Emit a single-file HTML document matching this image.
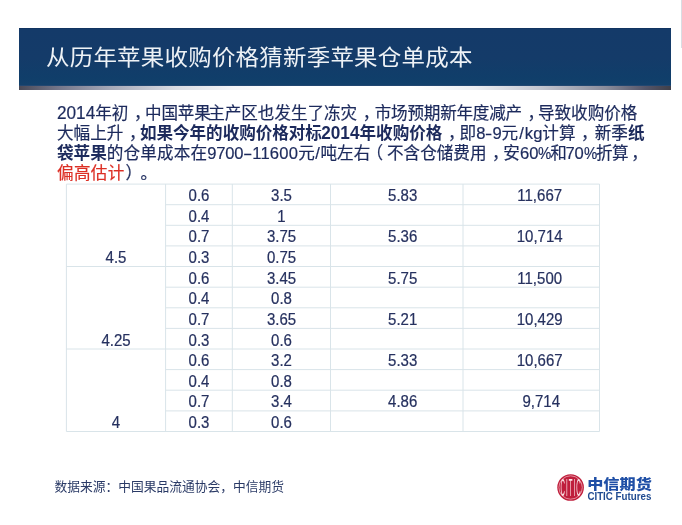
<!DOCTYPE html>
<html lang="zh">
<head>
<meta charset="utf-8">
<title>从历年苹果收购价格猜新季苹果仓单成本</title>
<style>
html,body{margin:0;padding:0;background:#fff;}
body{width:682px;height:525px;position:relative;overflow:hidden;font-family:"Liberation Sans","Noto Sans CJK SC",sans-serif;}
#banner{position:absolute;left:19px;top:28px;width:652px;height:58px;background:linear-gradient(to bottom,#10305c 0px,#143a69 1.5px,#143b69 30px,#103e6a 50px,#12406b 56.5px,#2a4a74 58px);}
#band{position:absolute;left:19px;top:85.8px;width:652px;height:3.9px;background:linear-gradient(to right,#4a4a58 0%,#74768a 6%,#a6a9b8 14%,#d9dce3 24%,#f4f5f8 33%,#ffffff 42%,#ffffff 60%,#eceef2 70%,#c3c6d0 80%,#8a8c9b 90%,#55566a 96%,#3f3f49 100%);}
#title{position:absolute;left:46px;top:37.5px;font-size:23.5px;line-height:40px;color:#eef2f6;white-space:nowrap;letter-spacing:0.2px;transform:scaleY(0.93);transform-origin:0 50%;}
#edge{position:absolute;left:680.7px;top:0;width:1.3px;height:48.4px;background:#d9dde3;}
.p{position:absolute;left:57px;font-size:16.6px;line-height:20px;color:#1c2a5c;white-space:nowrap;}
.p b{font-weight:bold;}
.red{color:#dc2f25;}
.p{transform:scaleY(1.035);transform-origin:0 60%;-webkit-text-stroke:0.2px currentColor;}
.p b{-webkit-text-stroke:0;}
.p i{font-style:normal;}
.cm{position:relative;left:5.5px;}
.n{font-size:17.2px;line-height:1px;}
.hy{display:inline-block;width:9.6px;margin-left:-0.7px;text-align:center;transform:scaleX(1.7);}
.hy2{display:inline-block;width:7px;text-align:center;transform:scaleX(1.3);}
.pc{display:inline-block;width:12.4px;transform:scaleX(0.9);transform-origin:0 50%;}
#grid{position:absolute;left:0;top:0;}
.c{position:absolute;width:80px;font-size:15px;line-height:20px;transform:scaleY(1.12);transform-origin:50% 55%;color:#26315f;-webkit-text-stroke:0.2px #26315f;text-align:center;white-space:nowrap;}
#src{position:absolute;left:54.5px;top:479.2px;font-size:12.75px;line-height:16px;color:#2a3a66;white-space:nowrap;}
#logo{position:absolute;left:552px;top:465px;}
</style>
</head>
<body>
<div id="edge"></div>
<div id="banner"></div>
<div id="band"></div>
<div id="title">从历年苹果收购价格猜新季苹果仓单成本</div>
<div class="p" style="top:104.1px"><span class="n">2014</span>年初<i class="cm">，</i><span style="letter-spacing:-0.2px">中国苹果</span><span style="margin-left:-2.4px;letter-spacing:-0.05px">主产区也发生了冻灾</span><i class="cm">，</i><span style="margin-left:1.0px;letter-spacing:-0.24px">市场预期新年度减产</span><i class="cm">，</i><span style="margin-left:-0.5px;letter-spacing:-0.05px">导致收购价格</span></div>
<div class="p" style="top:123.6px">大幅上升<i class="cm">，</i><b><span style="letter-spacing:-0.06px">如果今年的收购价格对标</span><span class="n" style="margin-left:-0.6px">2014</span>年收购价格</b><i class="cm">，</i><span style="margin-left:0.5px">即</span>8<i class="hy2">-</i>9元<span style="margin:0 1px">/</span>kg计算<i class="cm">，</i><span style="margin-left:2.6px">新季</span><b>纸</b></div>
<div class="p" style="top:143.7px"><b>袋苹果</b><span style="letter-spacing:0.15px">的仓单成本在</span><span style="letter-spacing:-0.22px">9700</span><i class="hy">-</i><span style="letter-spacing:0.2px">11600</span>元<span style="margin:0 0.6px">/</span>吨左右<span style="margin-left:-3.3px;position:relative;left:-0.6px">（</span><span style="margin-left:3.4px">不含仓储费用</span><i class="cm">，</i><span style="margin-left:0.2px">安</span>60<span class="pc">%</span><span style="margin-left:-0.5px">和</span><span style="letter-spacing:-0.15px;margin-left:-1.5px">70</span><span class="pc" style="width:12.4px">%</span><span style="letter-spacing:-0.5px">折算</span><i class="cm" style="left:3px">，</i></div>
<div class="p" style="top:163.8px"><span class="red" style="letter-spacing:0.3px">偏高估计</span><span style="margin-left:0.8px">）</span><span style="margin-left:6.9px">。</span></div>
<svg id="grid" width="682" height="525" viewBox="0 0 682 525">
<g stroke="#d9e4e9" stroke-width="1" fill="none">
<path d="M66.4 184.05V431.5"/>
<path d="M165.6 184.05V431.5"/>
<path d="M232.3 184.05V431.5"/>
<path d="M330.5 184.05V431.5"/>
<path d="M463 184.05V431.5"/>
<path d="M599.5 184.05V431.5"/>
<path d="M66.4 184.1H599.5"/>
<path d="M165.6 204.7H599.5"/>
<path d="M165.6 225.3H599.5"/>
<path d="M165.6 245.9H599.5"/>
<path d="M66.4 266.5H599.5"/>
<path d="M165.6 287.2H599.5"/>
<path d="M165.6 307.8H599.5"/>
<path d="M165.6 328.4H599.5"/>
<path d="M66.4 349.0H599.5"/>
<path d="M165.6 369.6H599.5"/>
<path d="M165.6 390.2H599.5"/>
<path d="M165.6 410.9H599.5"/>
<path d="M66.4 431.5H599.5"/>
</g>
</svg>
<div class="c" style="left:159.0px;top:186.2px">0.6</div>
<div class="c" style="left:241.5px;top:186.2px">3.5</div>
<div class="c" style="left:362.7px;top:186.2px">5.83</div>
<div class="c" style="left:499.7px;top:186.2px">11,667</div>
<div class="c" style="left:159.0px;top:206.8px">0.4</div>
<div class="c" style="left:241.5px;top:206.8px">1</div>
<div class="c" style="left:159.0px;top:227.4px">0.7</div>
<div class="c" style="left:241.5px;top:227.4px">3.75</div>
<div class="c" style="left:362.7px;top:227.4px">5.36</div>
<div class="c" style="left:499.7px;top:227.4px">10,714</div>
<div class="c" style="left:76.0px;top:248.0px">4.5</div>
<div class="c" style="left:159.0px;top:248.0px">0.3</div>
<div class="c" style="left:241.5px;top:248.0px">0.75</div>
<div class="c" style="left:159.0px;top:268.6px">0.6</div>
<div class="c" style="left:241.5px;top:268.6px">3.45</div>
<div class="c" style="left:362.7px;top:268.6px">5.75</div>
<div class="c" style="left:499.7px;top:268.6px">11,500</div>
<div class="c" style="left:159.0px;top:289.3px">0.4</div>
<div class="c" style="left:241.5px;top:289.3px">0.8</div>
<div class="c" style="left:159.0px;top:309.9px">0.7</div>
<div class="c" style="left:241.5px;top:309.9px">3.65</div>
<div class="c" style="left:362.7px;top:309.9px">5.21</div>
<div class="c" style="left:499.7px;top:309.9px">10,429</div>
<div class="c" style="left:76.0px;top:330.5px">4.25</div>
<div class="c" style="left:159.0px;top:330.5px">0.3</div>
<div class="c" style="left:241.5px;top:330.5px">0.6</div>
<div class="c" style="left:159.0px;top:351.1px">0.6</div>
<div class="c" style="left:241.5px;top:351.1px">3.2</div>
<div class="c" style="left:362.7px;top:351.1px">5.33</div>
<div class="c" style="left:499.7px;top:351.1px">10,667</div>
<div class="c" style="left:159.0px;top:371.7px">0.4</div>
<div class="c" style="left:241.5px;top:371.7px">0.8</div>
<div class="c" style="left:159.0px;top:392.4px">0.7</div>
<div class="c" style="left:241.5px;top:392.4px">3.4</div>
<div class="c" style="left:362.7px;top:392.4px">4.86</div>
<div class="c" style="left:501.3px;top:392.4px">9,714</div>
<div class="c" style="left:76.0px;top:413.0px">4</div>
<div class="c" style="left:159.0px;top:413.0px">0.3</div>
<div class="c" style="left:241.5px;top:413.0px">0.6</div>
<div id="src">数据来源：中国果品流通协会，中信期货</div>
<svg id="logo" width="130" height="50" viewBox="552 465 130 50">
<circle cx="570.6" cy="487.5" r="13.3" fill="#bf1e3c"/>
<circle cx="570.6" cy="487.5" r="11.7" fill="none" stroke="#f3b9c0" stroke-width="0.7"/>
<g transform="translate(570.6 487.5) scale(1 4)"><text x="0" y="2.2" font-family="Liberation Sans, sans-serif" font-size="6.1" fill="#fbe3e6" text-anchor="middle" textLength="20" lengthAdjust="spacing">CITIC</text></g>
<text x="587.2" y="488.7" font-family="Noto Sans CJK SC, sans-serif" font-weight="900" font-size="14" fill="#1f4fa6" textLength="64.6" lengthAdjust="spacingAndGlyphs">中信期货</text>
<text x="587.4" y="499.5" font-family="Liberation Sans, sans-serif" font-weight="bold" font-size="10.4" fill="#1f4a90" textLength="64" lengthAdjust="spacingAndGlyphs">CITIC Futures</text>
</svg>
</body>
</html>
